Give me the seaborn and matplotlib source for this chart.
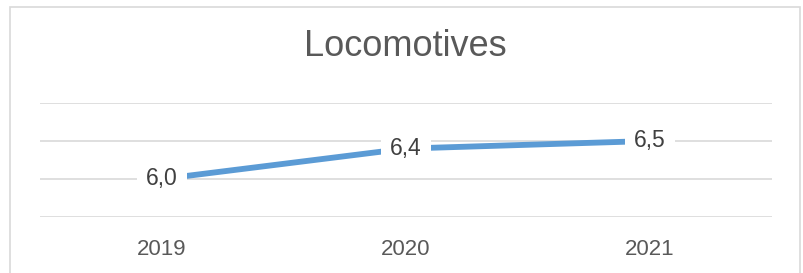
import pandas as pd
import seaborn as sns
import matplotlib.pyplot as plt
from matplotlib.patches import Rectangle

years = ['2019', '2020', '2021']
values = [6.0, 6.4, 6.5]
grid_ticks = [5.5, 6.0, 6.5, 7.0]
title = 'Locomotives'

data = pd.DataFrame({'year': years, 'value': values})

sns.set_theme(style='white')
plt.rcParams['font.family'] = ['Liberation Sans', 'DejaVu Sans']

fig = plt.figure(figsize=(8.04, 2.73), dpi=100)
ax = fig.add_axes([0.0498, 0.205, 0.9104, 0.418])

sns.lineplot(data=data, x='year', y='value', ax=ax, color='#5B9BD5',
             linewidth=4.2, solid_capstyle='butt', zorder=3)

for i, v in enumerate(values):
    ax.text(i, v, f'{v:.1f}'.replace('.', ','), ha='center', va='center',
            fontsize=16.5, color='#404040', zorder=4,
            bbox=dict(boxstyle='square,pad=0.4', fc='white', ec='none'))

ax.set_xlim(-0.5, 2.5)
ax.set_ylim(5.5, 7.0)
ax.set_yticks(grid_ticks)
ax.set_yticklabels([])
ax.grid(axis='y', color='#D9D9D9', linewidth=1.2)
ax.grid(axis='x', visible=False)
for s in ax.spines.values():
    s.set_visible(False)
ax.tick_params(axis='x', length=0, pad=15.5, labelsize=16, labelcolor='#595959')
ax.tick_params(axis='y', length=0)
ax.set_xlabel('')
ax.set_ylabel('')

fig.text(0.504, 1 - 46 / 273, title, ha='center', va='center',
         fontsize=26, color='#595959')

fig.patches.append(Rectangle((10 / 804, -0.05), 790 / 804, 1 - 7 / 273 + 0.05,
                             transform=fig.transFigure, fill=False,
                             edgecolor='#D9D9D9', linewidth=1.2))

fig.savefig('out.png', dpi=100)
